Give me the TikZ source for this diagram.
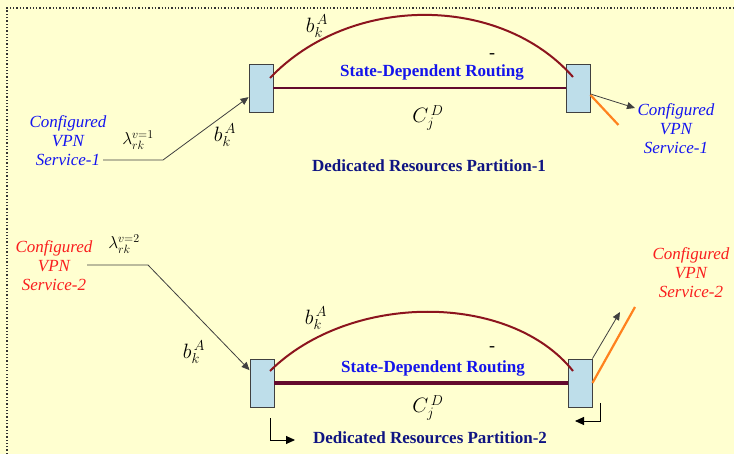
\documentclass[tikz,border=0pt]{standalone}
\usepackage{fontspec}
\setmainfont{Liberation Serif}
\usetikzlibrary{arrows.meta}
\definecolor{bgyellow}{RGB}{255,255,208}
\definecolor{boxblue}{RGB}{190,222,234}
\definecolor{arcred}{RGB}{140,20,30}
\definecolor{linkmaroon}{RGB}{100,10,45}
\definecolor{svcblue}{RGB}{20,20,240}
\definecolor{svcred}{RGB}{250,30,30}
\definecolor{routeblue}{RGB}{20,20,235}
\definecolor{partnavy}{RGB}{15,20,130}
\definecolor{feedorange}{RGB}{255,130,30}
\begin{document}
\begin{tikzpicture}[x=1pt,y=-1pt,
  router/.style={draw=black!75, fill=boxblue, line width=0.9pt, minimum width=24pt, minimum height=48pt, inner sep=0pt},
  arcline/.style={draw=arcred, line width=2pt},
  linkline/.style={draw=linkmaroon, line width=2.6pt},
  feed/.style={draw=black!75, line width=0.8pt, -{Triangle[length=8pt,width=7pt]}},
  elbow/.style={draw=black, line width=0.9pt, -{Triangle[length=9pt,width=8pt]}},
  orangeline/.style={draw=feedorange, line width=2.2pt},
  svcA/.style={text=svcblue, font=\itshape\fontsize{17}{19}\selectfont, align=center, inner sep=0pt},
  svcB/.style={text=svcred, font=\itshape\fontsize{17}{19}\selectfont, align=center, inner sep=0pt},
  routing/.style={text=routeblue, font=\bfseries\fontsize{17}{19}\selectfont, inner sep=0pt},
  partition/.style={text=partnavy, font=\bfseries\fontsize{17}{19}\selectfont, inner sep=0pt},
  mathlbl/.style={font=\fontsize{21}{23}\selectfont, inner sep=0pt},
  lamlbl/.style={font=\fontsize{18}{20}\selectfont, inner sep=0pt}]
\useasboundingbox (0,0) rectangle (734,454);
% background and frame
\fill[bgyellow] (0,0) rectangle (734,454);
\draw[black!80, dotted, line width=1.3pt] (7,454) -- (7,8) -- (734,8);

% partition 1
\node[router] (inA) at (261,88) {};
\node[router] (outA) at (578,88) {};
\draw[linkline] (inA.east) -- (outA.west);
\draw[arcline] (270,78) .. controls (350,-6) and (500,-6) .. (573,77);
\node[routing] (sdrA) at (432,72) {State-Dependent Routing};
\node[lamlbl] (dashA) at (492,56) {-};
\node[mathlbl] (capA) at (428,118) {$C_{j}^{\,D}$};
\node[mathlbl] (barcA) at (317,26) {$b_{k}^{\,A}$};
\node[mathlbl] (bincA) at (225,135) {$b_{k}^{\,A}$};
\node[lamlbl] (lamA) at (138,140) {$\lambda_{rk}^{v=1}$};
\node[partition] (partA) at (429,166) {Dedicated Resources Partition-1};
\node[svcA] (srcA) at (68,141) {Configured\\VPN\\Service-1};
\node[svcA] (dstA) at (676,129) {Configured\\VPN\\Service-1};
\coordinate (startA) at (103,160);
\coordinate (bendA) at (163,160);
\coordinate (tipA) at (635,108);
\draw[feed] (startA) -- (bendA) -- (inA);
\draw[feed] ([yshift=-6pt]outA.east) -- (tipA);
\draw[orangeline] ([yshift=-7pt]outA.east) -- ++(28,30);

% partition 2
\node[router] (inB) at (262,383) {};
\node[router] (outB) at (580,383) {};
\draw[linkline, line width=3.4pt] (inB.east) -- (outB.west);
\draw[arcline] (270,371) .. controls (350,292) and (510,292) .. (573,371);
\node[routing] (sdrB) at (433,368) {State-Dependent Routing};
\node[lamlbl] (dashB) at (492,349) {-};
\node[mathlbl] (capB) at (428,408) {$C_{j}^{\,D}$};
\node[mathlbl] (barcB) at (316,318) {$b_{k}^{\,A}$};
\node[mathlbl] (bincB) at (194,352) {$b_{k}^{\,A}$};
\node[lamlbl] (lamB) at (124,244) {$\lambda_{rk}^{v=2}$};
\node[partition] (partB) at (430,438) {Dedicated Resources Partition-2};
\node[svcB] (srcB) at (54,266) {Configured\\VPN\\Service-2};
\node[svcB] (dstB) at (691,273) {Configured\\VPN\\Service-2};
\coordinate (startB) at (87,265);
\coordinate (bendB) at (148,265);
\coordinate (tipB) at (620,312);
\draw[feed] (startB) -- (bendB) -- (inB);
\draw[feed] (outB.north east) -- (tipB);
\draw[orangeline] (outB.east) -- (635,307);
\draw[elbow] (270,418) -- (270,440) -- (295,440);
\draw[elbow] (600,403) -- (600,421) -- (575,421);
\end{tikzpicture}
\end{document}
